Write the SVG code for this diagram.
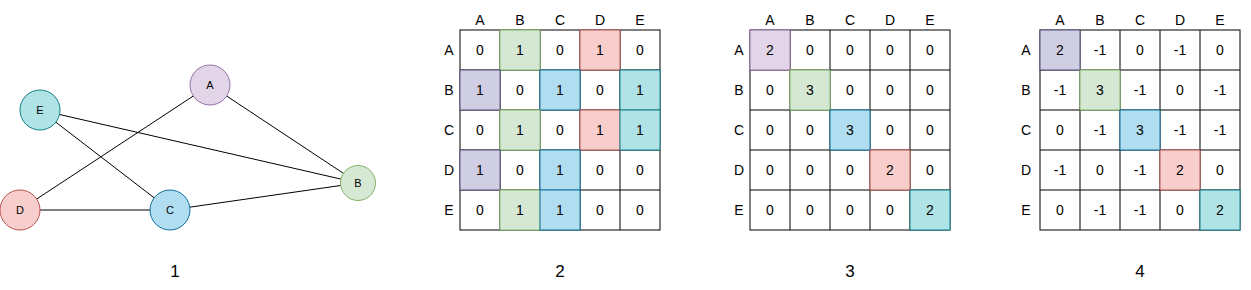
<svg xmlns="http://www.w3.org/2000/svg" width="1251" height="290" viewBox="0 0 1251 290">
<style>
text{font-family:"Liberation Sans","DejaVu Sans",sans-serif;fill:#000;text-anchor:middle}
.n{font-size:11px}
.v{font-size:14px}
.h{font-size:14px}
.cap{font-size:17px}
.e{stroke:#000;stroke-width:1;fill:none}
.w{fill:#fff;stroke:#000;stroke-width:1}
.pu{fill:#e1d5e7;stroke:#9673a6}
.pd{fill:#d0cee2;stroke:#56517e}
.gr{fill:#d5e8d4;stroke:#82b366}
.rd{fill:#f8cecc;stroke:#b85450}
.bl{fill:#b1ddf0;stroke:#10739e}
.tl{fill:#b0e3e6;stroke:#0e8088}
</style>
<rect width="1251" height="290" fill="#fff"/>
<g id="connectors">
<line class="e" x1="210" y1="85" x2="358" y2="183"/>
<line class="e" x1="210" y1="85" x2="20" y2="210"/>
<line class="e" x1="40" y1="110" x2="358" y2="183"/>
<line class="e" x1="40" y1="110" x2="170" y2="210"/>
<line class="e" x1="20" y1="210" x2="170" y2="210"/>
<line class="e" x1="170" y1="210" x2="358" y2="183"/>
</g>
<g id="node-A"><circle class="pu" cx="210" cy="85" r="20"/><text class="n" x="210" y="89">A</text></g>
<g id="node-E"><circle class="tl" cx="40" cy="110" r="20"/><text class="n" x="40" y="114">E</text></g>
<g id="node-D"><circle class="rd" cx="20" cy="210" r="20"/><text class="n" x="20" y="214">D</text></g>
<g id="node-C"><circle class="bl" cx="170" cy="210" r="20"/><text class="n" x="170" y="214">C</text></g>
<g id="node-B"><circle class="gr" cx="358" cy="183" r="17.5"/><text class="n" x="358" y="187">B</text></g>
<text class="cap" x="175" y="277">1</text>

<g id="matrix-2">
<rect class="w" x="460" y="30" width="200" height="200"/>
<path class="e" d="M500 30V230M540 30V230M580 30V230M620 30V230M460 70H660M460 110H660M460 150H660M460 190H660"/>
<rect class="gr" x="500" y="30" width="40" height="40"/>
<rect class="rd" x="580" y="30" width="40" height="40"/>
<rect class="pd" x="460" y="70" width="40" height="40"/>
<rect class="bl" x="540" y="70" width="40" height="40"/>
<rect class="tl" x="620" y="70" width="40" height="40"/>
<rect class="gr" x="500" y="110" width="40" height="40"/>
<rect class="rd" x="580" y="110" width="40" height="40"/>
<rect class="tl" x="620" y="110" width="40" height="40"/>
<rect class="pd" x="460" y="150" width="40" height="40"/>
<rect class="bl" x="540" y="150" width="40" height="40"/>
<rect class="gr" x="500" y="190" width="40" height="40"/>
<rect class="bl" x="540" y="190" width="40" height="40"/>
<text class="h" x="480" y="25">A</text><text class="h" x="520" y="25">B</text><text class="h" x="560" y="25">C</text><text class="h" x="600" y="25">D</text><text class="h" x="640" y="25">E</text>
<text class="h" x="449" y="55">A</text><text class="h" x="449" y="95">B</text><text class="h" x="449" y="135">C</text><text class="h" x="449" y="175">D</text><text class="h" x="449" y="215">E</text>
<text class="v" x="480" y="55">0</text><text class="v" x="520" y="55">1</text><text class="v" x="560" y="55">0</text><text class="v" x="600" y="55">1</text><text class="v" x="640" y="55">0</text>
<text class="v" x="480" y="95">1</text><text class="v" x="520" y="95">0</text><text class="v" x="560" y="95">1</text><text class="v" x="600" y="95">0</text><text class="v" x="640" y="95">1</text>
<text class="v" x="480" y="135">0</text><text class="v" x="520" y="135">1</text><text class="v" x="560" y="135">0</text><text class="v" x="600" y="135">1</text><text class="v" x="640" y="135">1</text>
<text class="v" x="480" y="175">1</text><text class="v" x="520" y="175">0</text><text class="v" x="560" y="175">1</text><text class="v" x="600" y="175">0</text><text class="v" x="640" y="175">0</text>
<text class="v" x="480" y="215">0</text><text class="v" x="520" y="215">1</text><text class="v" x="560" y="215">1</text><text class="v" x="600" y="215">0</text><text class="v" x="640" y="215">0</text>
</g>
<text class="cap" x="560" y="277">2</text>

<g id="matrix-3">
<rect class="w" x="750" y="30" width="200" height="200"/>
<path class="e" d="M790 30V230M830 30V230M870 30V230M910 30V230M750 70H950M750 110H950M750 150H950M750 190H950"/>
<rect class="pu" x="750" y="30" width="40" height="40"/>
<rect class="gr" x="790" y="70" width="40" height="40"/>
<rect class="bl" x="830" y="110" width="40" height="40"/>
<rect class="rd" x="870" y="150" width="40" height="40"/>
<rect class="tl" x="910" y="190" width="40" height="40"/>
<text class="h" x="770" y="25">A</text><text class="h" x="810" y="25">B</text><text class="h" x="850" y="25">C</text><text class="h" x="890" y="25">D</text><text class="h" x="930" y="25">E</text>
<text class="h" x="739" y="55">A</text><text class="h" x="739" y="95">B</text><text class="h" x="739" y="135">C</text><text class="h" x="739" y="175">D</text><text class="h" x="739" y="215">E</text>
<text class="v" x="770" y="55">2</text><text class="v" x="810" y="55">0</text><text class="v" x="850" y="55">0</text><text class="v" x="890" y="55">0</text><text class="v" x="930" y="55">0</text>
<text class="v" x="770" y="95">0</text><text class="v" x="810" y="95">3</text><text class="v" x="850" y="95">0</text><text class="v" x="890" y="95">0</text><text class="v" x="930" y="95">0</text>
<text class="v" x="770" y="135">0</text><text class="v" x="810" y="135">0</text><text class="v" x="850" y="135">3</text><text class="v" x="890" y="135">0</text><text class="v" x="930" y="135">0</text>
<text class="v" x="770" y="175">0</text><text class="v" x="810" y="175">0</text><text class="v" x="850" y="175">0</text><text class="v" x="890" y="175">2</text><text class="v" x="930" y="175">0</text>
<text class="v" x="770" y="215">0</text><text class="v" x="810" y="215">0</text><text class="v" x="850" y="215">0</text><text class="v" x="890" y="215">0</text><text class="v" x="930" y="215">2</text>
</g>
<text class="cap" x="850" y="277">3</text>

<g id="matrix-4">
<rect class="w" x="1040" y="30" width="200" height="200"/>
<path class="e" d="M1080 30V230M1120 30V230M1160 30V230M1200 30V230M1040 70H1240M1040 110H1240M1040 150H1240M1040 190H1240"/>
<rect class="pd" x="1040" y="30" width="40" height="40"/>
<rect class="gr" x="1080" y="70" width="40" height="40"/>
<rect class="bl" x="1120" y="110" width="40" height="40"/>
<rect class="rd" x="1160" y="150" width="40" height="40"/>
<rect class="tl" x="1200" y="190" width="40" height="40"/>
<text class="h" x="1060" y="25">A</text><text class="h" x="1100" y="25">B</text><text class="h" x="1140" y="25">C</text><text class="h" x="1180" y="25">D</text><text class="h" x="1220" y="25">E</text>
<text class="h" x="1026" y="55">A</text><text class="h" x="1026" y="95">B</text><text class="h" x="1026" y="135">C</text><text class="h" x="1026" y="175">D</text><text class="h" x="1026" y="215">E</text>
<text class="v" x="1060" y="55">2</text><text class="v" x="1100" y="55">-1</text><text class="v" x="1140" y="55">0</text><text class="v" x="1180" y="55">-1</text><text class="v" x="1220" y="55">0</text>
<text class="v" x="1060" y="95">-1</text><text class="v" x="1100" y="95">3</text><text class="v" x="1140" y="95">-1</text><text class="v" x="1180" y="95">0</text><text class="v" x="1220" y="95">-1</text>
<text class="v" x="1060" y="135">0</text><text class="v" x="1100" y="135">-1</text><text class="v" x="1140" y="135">3</text><text class="v" x="1180" y="135">-1</text><text class="v" x="1220" y="135">-1</text>
<text class="v" x="1060" y="175">-1</text><text class="v" x="1100" y="175">0</text><text class="v" x="1140" y="175">-1</text><text class="v" x="1180" y="175">2</text><text class="v" x="1220" y="175">0</text>
<text class="v" x="1060" y="215">0</text><text class="v" x="1100" y="215">-1</text><text class="v" x="1140" y="215">-1</text><text class="v" x="1180" y="215">0</text><text class="v" x="1220" y="215">2</text>
</g>
<text class="cap" x="1140" y="277">4</text>
</svg>
